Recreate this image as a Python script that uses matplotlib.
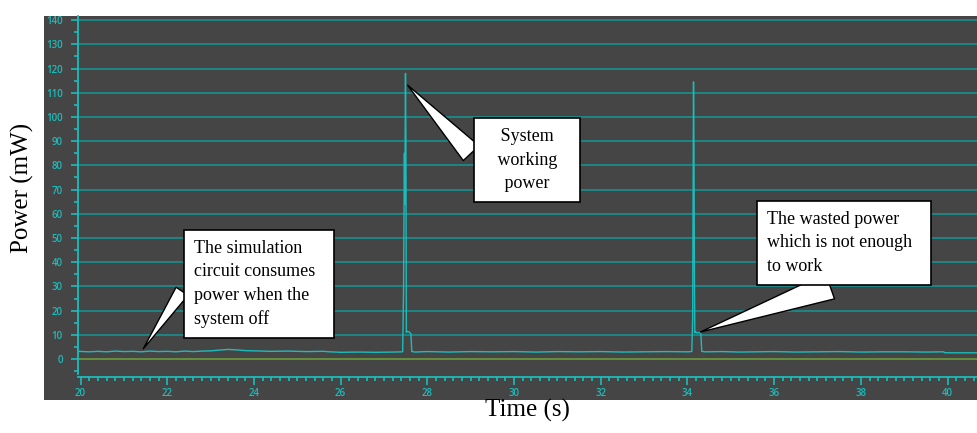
import matplotlib.pyplot as plt
from matplotlib.patches import Rectangle
from matplotlib.ticker import MultipleLocator

# Power trace (time in s, power in mW)
time_s = [19.94, 20.2, 20.4, 20.6, 20.8, 21.0, 21.2, 21.4, 21.6, 21.8,
          22.0, 22.2, 22.4, 22.6, 22.8, 23.0, 23.2, 23.4, 23.6, 23.8,
          24.0, 24.4, 24.8, 25.2, 25.6, 25.75, 26.0, 26.4, 26.8, 27.2,
          27.43, 27.45, 27.47, 27.48, 27.495, 27.505, 27.515, 27.53, 27.58, 27.62,
          27.64, 27.7, 28.0, 28.5, 29.0, 29.5, 30.0, 30.5, 31.0, 31.5,
          32.0, 32.5, 33.0, 33.5, 34.0, 34.1, 34.12, 34.14, 34.15, 34.16,
          34.17, 34.18, 34.22, 34.28, 34.31, 34.33, 34.4, 34.8, 35.2, 35.6,
          36.0, 36.5, 37.0, 37.5, 38.0, 38.5, 39.0, 39.5, 39.9, 39.95, 40.3, 40.68]
power_mw = [3.2, 3.0, 3.2, 3.0, 3.3, 3.1, 3.2, 3.0, 3.3, 3.1,
            3.2, 3.0, 3.3, 3.1, 3.3, 3.4, 3.7, 4.0, 3.8, 3.5,
            3.4, 3.2, 3.3, 3.1, 3.2, 3.0, 2.8, 2.9, 2.8, 2.9,
            3.0, 28.0, 85.0, 64.0, 118.0, 90.0, 11.0, 11.5, 11.2, 10.5,
            3.2, 2.9, 3.1, 2.9, 3.1, 3.0, 3.1, 2.9, 3.1, 3.0,
            3.1, 2.9, 3.0, 3.1, 3.0, 3.1, 17.0, 114.5, 88.0, 37.0,
            11.0, 11.3, 10.8, 11.0, 10.5, 3.2, 3.0, 3.1, 2.9, 3.0,
            3.1, 2.9, 3.0, 3.1, 2.9, 3.0, 3.0, 2.9, 3.0, 2.6, 2.6, 2.6]

bg = '#454545'
cyan = '#1cbcbc'
teal = '#1a8a8a'
green = '#6a9c3c'

fig = plt.figure(figsize=(9.77, 4.33), dpi=100)
fig.patches.append(Rectangle((44 / 977, 33 / 433), 933 / 977, 384 / 433,
                             transform=fig.transFigure, facecolor=bg,
                             edgecolor='none', zorder=-5))
ax = fig.add_axes([78 / 977, 56 / 433, 899 / 977, 361 / 433])
ax.set_facecolor(bg)

ax.set_xlim(19.94, 40.68)
ax.set_ylim(-7.4, 141.7)

# horizontal grid and zero line
for v in range(10, 150, 10):
    ax.axhline(v, color=teal, lw=1.3, zorder=1)
ax.axhline(0, color=green, lw=1.2, zorder=1)

ax.plot(time_s, power_mw, color=cyan, lw=1.0, zorder=3)

for s in ['top', 'right']:
    ax.spines[s].set_visible(False)
ax.spines['left'].set_color(cyan)
ax.spines['bottom'].set_color(cyan)
ax.spines['left'].set_linewidth(1.3)
ax.spines['bottom'].set_linewidth(1.3)
ax.spines['left'].set_bounds(-6, 141.7)

ax.xaxis.set_major_locator(MultipleLocator(2))
ax.xaxis.set_minor_locator(MultipleLocator(0.2))
ax.yaxis.set_major_locator(MultipleLocator(10))
ax.yaxis.set_minor_locator(MultipleLocator(5))
ax.set_yticks(range(0, 150, 10))
ax.tick_params(axis='both', which='both', colors=cyan, labelcolor=cyan,
               labelsize=7)
ax.tick_params(axis='y', which='major', length=5, width=1.2, pad=6)
ax.tick_params(axis='y', which='minor', length=3, width=1.2)
ax.tick_params(axis='x', which='major', length=6, width=1.2, pad=2)
ax.tick_params(axis='x', which='minor', length=3, width=1.2)
for lab in ax.get_xticklabels() + ax.get_yticklabels():
    lab.set_fontfamily('Open Sans')
    lab.set_fontweight('semibold')

serif = 'Liberation Serif'
fig.text(0.5 * (487 + 568) / 977, 1 - 410 / 433, 'Time (s)', ha='center', va='center',
         fontsize=18, family=serif)
fig.text(22 / 977, 1 - 188 / 433, 'Power (mW)', ha='center', va='center',
         rotation=90, fontsize=18, family=serif)

box = dict(boxstyle='square,pad=0.55', fc='white', ec='black', lw=1.2)


def callout(tail, rel):
    return dict(arrowstyle=f'wedge,tail_width={tail},shrink_factor=0.5',
                fc='white', ec='black', lw=1.0, relpos=rel)


ax.annotate('The simulation  \ncircuit consumes  \npower when the\nsystem off',
            xy=(21.41, 3.3), xytext=(22.62, 31.0), textcoords='data',
            ha='left', va='center', fontsize=13, family=serif,
            linespacing=1.5, bbox=box, arrowprops=callout(0.8, (0.0, 0.62)),
            zorder=5)
ax.annotate('   System   \n   working   \n   power   ',
            xy=(27.5, 114.0), xytext=(30.30, 82.2), textcoords='data',
            ha='center', va='center', fontsize=13, family=serif,
            linespacing=1.5, bbox=box, arrowprops=callout(1.2, (0.0, 0.4)),
            zorder=5)
ax.annotate('The wasted power\nwhich is not enough  \nto work',
            xy=(34.24, 10.8), xytext=(35.83, 48.1), textcoords='data',
            ha='left', va='center', fontsize=13, family=serif,
            linespacing=1.5, bbox=box, arrowprops=callout(1.5, (0.62, 0.0)),
            zorder=5)

fig.savefig('out.png', dpi=100)
